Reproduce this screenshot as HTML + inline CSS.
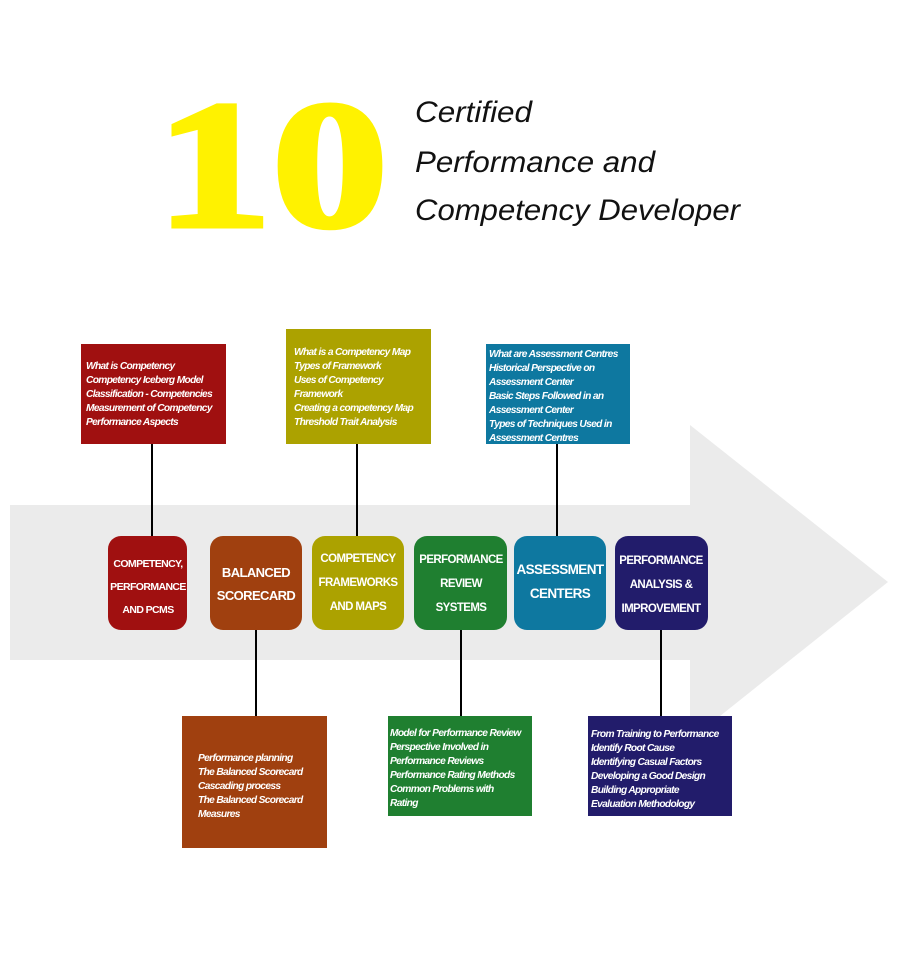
<!DOCTYPE html>
<html><head><meta charset="utf-8"><style>
html,body{margin:0;padding:0;background:#fff;width:900px;height:969px;overflow:hidden}
svg{display:block}
.t{font-family:"Liberation Sans",sans-serif;font-style:italic;font-weight:bold;font-size:10.2px;letter-spacing:-0.65px;fill:#fff}
.b{font-family:"Liberation Sans",sans-serif;font-weight:bold;font-size:11.5px;letter-spacing:-0.6px;fill:#fff;text-anchor:middle}
.h{font-family:"Liberation Sans",sans-serif;font-style:italic;font-size:30px;fill:#111}
</style></head><body>
<svg width="900" height="969" viewBox="0 0 900 969" xmlns="http://www.w3.org/2000/svg">
<polygon points="10,505 690,505 690,425 888,582 690,740 690,660 10,660" fill="#ebebeb"/>
<text x="156" y="226" font-family="Liberation Serif,serif" font-weight="bold" font-size="182" fill="#fff200" stroke="#fff200" stroke-width="5" textLength="232" lengthAdjust="spacingAndGlyphs">10</text>
<text class="h" x="415" y="122" textLength="117" lengthAdjust="spacingAndGlyphs">Certified</text>
<text class="h" x="415" y="172" textLength="240" lengthAdjust="spacingAndGlyphs">Performance and</text>
<text class="h" x="415" y="220" textLength="325" lengthAdjust="spacingAndGlyphs">Competency Developer</text>
<g stroke="#000" stroke-width="2">
<line x1="152" y1="444" x2="152" y2="536"/><line x1="357" y1="444" x2="357" y2="536"/><line x1="557" y1="444" x2="557" y2="536"/>
<line x1="256" y1="630" x2="256" y2="716"/><line x1="461" y1="630" x2="461" y2="716"/><line x1="661" y1="630" x2="661" y2="716"/>
</g>
<rect x="81" y="344" width="145" height="100" fill="#a01010"/>
<rect x="286" y="329" width="145" height="115" fill="#aca200"/>
<rect x="486" y="344" width="144" height="100" fill="#0e78a0"/>
<rect x="182" y="716" width="145" height="132" fill="#a0400f"/>
<rect x="388" y="716" width="144" height="100" fill="#1f7f30"/>
<rect x="588" y="716" width="144" height="100" fill="#221c6b"/>
<g class="t">
<text x="86" y="369">What is Competency</text><text x="86" y="383">Competency Iceberg Model</text><text x="86" y="397">Classification - Competencies</text><text x="86" y="411">Measurement of Competency</text><text x="86" y="425">Performance Aspects</text>
<text x="294" y="355">What is a Competency Map</text><text x="294" y="369">Types of Framework</text><text x="294" y="383">Uses of Competency</text><text x="294" y="397">Framework</text><text x="294" y="411">Creating a competency Map</text><text x="294" y="425">Threshold Trait Analysis</text>
<text x="489" y="357">What are Assessment Centres</text><text x="489" y="371">Historical Perspective on</text><text x="489" y="385">Assessment Center</text><text x="489" y="399">Basic Steps Followed in an</text><text x="489" y="413">Assessment Center</text><text x="489" y="427">Types of Techniques Used in</text><text x="489" y="441">Assessment Centres</text>
<text x="198" y="761">Performance planning</text><text x="198" y="775">The Balanced Scorecard</text><text x="198" y="789">Cascading process</text><text x="198" y="803">The Balanced Scorecard</text><text x="198" y="817">Measures</text>
<text x="390" y="736">Model for Performance Review</text><text x="390" y="750">Perspective Involved in</text><text x="390" y="764">Performance Reviews</text><text x="390" y="778">Performance Rating Methods</text><text x="390" y="792">Common Problems with</text><text x="390" y="806">Rating</text>
<text x="591" y="737">From Training to Performance</text><text x="591" y="751">Identify Root Cause</text><text x="591" y="765">Identifying Casual Factors</text><text x="591" y="779">Developing a Good Design</text><text x="591" y="793">Building Appropriate</text><text x="591" y="807">Evaluation Methodology</text>
</g>
<rect x="108" y="536" width="79" height="94" rx="13" fill="#a01010"/>
<rect x="210" y="536" width="92" height="94" rx="13" fill="#a0400f"/>
<rect x="312" y="536" width="92" height="94" rx="13" fill="#aca200"/>
<rect x="414" y="536" width="93" height="94" rx="13" fill="#1f7f30"/>
<rect x="514" y="536" width="92" height="94" rx="13" fill="#0e78a0"/>
<rect x="615" y="536" width="93" height="94" rx="13" fill="#221c6b"/>
<g class="b">
<text x="148" y="567" font-size="10.5">COMPETENCY,</text><text x="148" y="590" font-size="10.5">PERFORMANCE</text><text x="148" y="613" font-size="10.5">AND PCMS</text>
<text x="256" y="577" font-size="13">BALANCED</text><text x="256" y="600" font-size="13">SCORECARD</text>
<text x="358" y="562">COMPETENCY</text><text x="358" y="586">FRAMEWORKS</text><text x="358" y="610">AND MAPS</text>
<text x="461" y="563">PERFORMANCE</text><text x="461" y="587">REVIEW</text><text x="461" y="611">SYSTEMS</text>
<text x="560" y="574" font-size="13.5">ASSESSMENT</text><text x="560" y="598" font-size="13.5">CENTERS</text>
<text x="661" y="564">PERFORMANCE</text><text x="661" y="588">ANALYSIS &amp;</text><text x="661" y="612">IMPROVEMENT</text>
</g>
</svg>
</body></html>
